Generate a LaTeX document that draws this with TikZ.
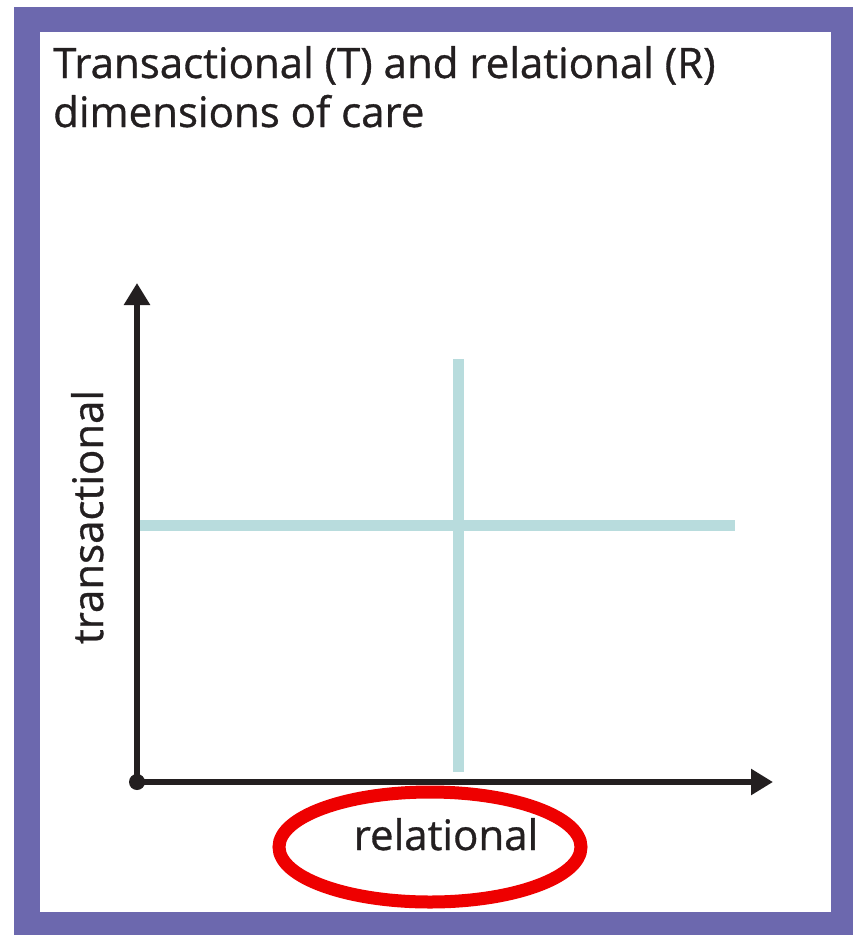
\documentclass[tikz,border=0pt]{standalone}
\usepackage{fontspec}
\setmainfont[FakeBold=0.8]{Open Sans}
\usetikzlibrary{arrows.meta}
\definecolor{framepurple}{RGB}{108,104,174}
\definecolor{lightteal}{RGB}{184,220,221}
\definecolor{axisblack}{RGB}{35,31,32}
\definecolor{markred}{RGB}{238,0,0}
\tikzset{
  axisline/.style={line width=5.5pt, draw=axisblack, -{Triangle[length=22pt,width=25pt]}},
  gridline/.style={line width=11pt, draw=lightteal},
  txt/.style={inner sep=0pt, text=axisblack, font=\fontsize{42}{50}\selectfont},
}
\begin{document}
\begin{tikzpicture}[x=1pt,y=-1pt]
\useasboundingbox (0,0) rectangle (853,935);
\fill[framepurple] (14,7) rectangle (853,935);
\fill[white] (40,32) rectangle (831,912);
\node[txt, anchor=base west] (title1) at (53,78) {Transactional (T) and relational (R)};
\node[txt, anchor=base west] (title2) at (53,127) {dimensions of care};
\coordinate (origin) at (137,782);
\coordinate (ytip) at (137,283);
\coordinate (xtip) at (773,782);
\coordinate (vtop) at (458,359);
\coordinate (vbot) at (458,772);
\coordinate (hleft) at (137,525);
\coordinate (hright) at (735,525);
\draw[gridline] (vtop) -- (vbot);
\draw[gridline] (hleft) -- (hright);
\draw[axisline] (137,786) -- (ytip);
\draw[axisline] (130,782) -- (xtip);
\fill[axisblack] (origin) circle (8);
\node[txt, anchor=base, rotate=90] (ylabel) at (103,517) {transactional};
\node[txt, anchor=base] (xlabel) at (446,850) {relational};
\draw[markred, line width=13pt] (430,847) ellipse (151 and 55);
\end{tikzpicture}
\end{document}
